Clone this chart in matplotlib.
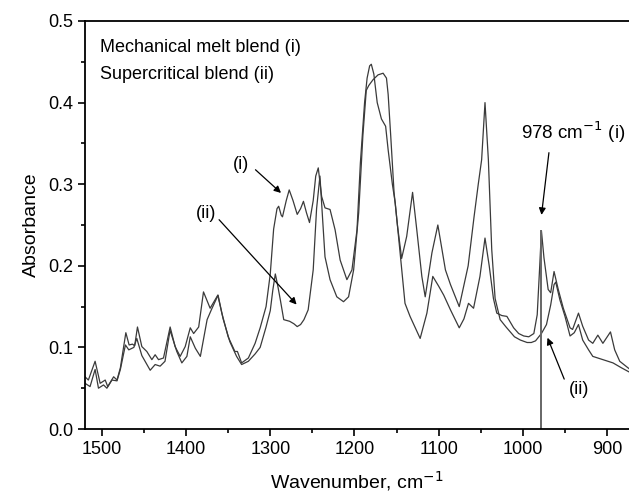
import matplotlib.pyplot as plt
from matplotlib.ticker import MultipleLocator, FormatStrFormatter

plt.rcParams['font.family'] = ['Liberation Sans', 'DejaVu Sans']

# Mechanical melt blend (i)
wn_i = [1520, 1516, 1508, 1502, 1496, 1493, 1486, 1482, 1478, 1471.5,
        1467.6, 1463.6, 1461, 1457.7, 1452.5, 1446.6, 1440.6, 1436.7, 1432.7, 1426.8,
        1418.9, 1413, 1407, 1401, 1395, 1391, 1385, 1379.3, 1371.4, 1362.3,
        1357.5, 1350, 1342, 1339, 1334, 1326, 1318, 1312, 1305, 1300,
        1296, 1292, 1290, 1287, 1285.5, 1281, 1277.5, 1273, 1268, 1264,
        1260.6, 1257, 1253.4, 1249, 1246, 1243, 1239, 1235, 1229, 1223,
        1217, 1209, 1203, 1197, 1193, 1188, 1185, 1182, 1180, 1177,
        1173, 1168, 1163, 1160, 1155, 1151.6, 1147.7, 1140, 1134, 1122,
        1114, 1107, 1100, 1094, 1086, 1075.6, 1070, 1064.6, 1058.6, 1051,
        1045, 1040, 1035, 1031, 1025, 1019, 1011, 1005, 999, 993,
        987, 983, 980, 978, 975, 970, 967, 963, 958, 952,
        944, 941, 934, 929, 922, 917, 911, 905, 896, 891,
        885, 874]
abs_i = [0.064, 0.060, 0.083, 0.056, 0.060, 0.052, 0.064, 0.060, 0.075, 0.118,
         0.103, 0.104, 0.102, 0.125, 0.101, 0.095, 0.085, 0.091, 0.085, 0.087,
         0.125, 0.101, 0.089, 0.101, 0.124, 0.117, 0.125, 0.168, 0.148, 0.164,
         0.142, 0.113, 0.095, 0.095, 0.081, 0.087, 0.105, 0.124, 0.150, 0.190,
         0.245, 0.270, 0.273, 0.262, 0.260, 0.280, 0.293, 0.280, 0.263, 0.270,
         0.279, 0.265, 0.253, 0.280, 0.310, 0.320, 0.285, 0.271, 0.269, 0.244,
         0.207, 0.183, 0.195, 0.244, 0.326, 0.400, 0.430, 0.445, 0.447, 0.435,
         0.400, 0.380, 0.371, 0.342, 0.300, 0.277, 0.236, 0.154, 0.138, 0.111,
         0.142, 0.187, 0.175, 0.164, 0.146, 0.124, 0.135, 0.154, 0.148, 0.187,
         0.234, 0.200, 0.160, 0.142, 0.139, 0.138, 0.124, 0.117, 0.114, 0.113,
         0.117, 0.140, 0.200, 0.243, 0.210, 0.171, 0.167, 0.193, 0.171, 0.148,
         0.124, 0.122, 0.142, 0.126, 0.109, 0.105, 0.115, 0.105, 0.119, 0.097,
         0.083, 0.074]

# Supercritical blend (ii)
wn_ii = [1520, 1514, 1508, 1504, 1498, 1494, 1488, 1482, 1478, 1472,
         1468, 1462, 1458.5, 1452.5, 1442.6, 1436.7, 1430.8, 1425, 1419, 1411,
         1405, 1399, 1395, 1389, 1383, 1375, 1370, 1362, 1356, 1348,
         1340, 1334, 1326, 1318, 1312, 1305, 1300, 1297, 1294, 1291,
         1288, 1284, 1277, 1272, 1268, 1264, 1260, 1255, 1249, 1245,
         1241, 1238, 1235, 1229, 1221, 1213, 1207, 1201, 1195, 1190,
         1186, 1183, 1178, 1172, 1166, 1162, 1160, 1157, 1153, 1149,
         1144, 1138, 1131, 1126, 1120, 1116, 1108, 1101, 1092, 1086,
         1075.6, 1065, 1058, 1053, 1049, 1045, 1041, 1037, 1033, 1027,
         1020, 1010, 1003, 995, 990, 985, 978, 972, 967, 963,
         961, 956, 950, 944, 939, 934, 929, 922, 917, 905,
         893, 883, 874]
abs_ii = [0.056, 0.052, 0.073, 0.050, 0.054, 0.050, 0.060, 0.059, 0.073, 0.103,
          0.097, 0.100, 0.111, 0.090, 0.072, 0.079, 0.077, 0.083, 0.121, 0.095,
          0.081, 0.089, 0.113, 0.099, 0.089, 0.134, 0.146, 0.164, 0.135, 0.107,
          0.089, 0.079, 0.083, 0.092, 0.100, 0.125, 0.145, 0.170, 0.190, 0.175,
          0.158, 0.134, 0.132, 0.129, 0.1255, 0.128, 0.134, 0.146, 0.195, 0.270,
          0.310, 0.260, 0.211, 0.183, 0.162, 0.156, 0.162, 0.195, 0.265, 0.360,
          0.415, 0.421, 0.428, 0.434, 0.436, 0.430, 0.410, 0.360, 0.290, 0.250,
          0.209, 0.236, 0.290, 0.244, 0.187, 0.162, 0.216, 0.250, 0.195, 0.177,
          0.150, 0.200, 0.260, 0.300, 0.330, 0.400, 0.330, 0.220, 0.160, 0.134,
          0.125, 0.113, 0.109, 0.106, 0.106, 0.108, 0.117, 0.128, 0.152, 0.177,
          0.180, 0.158, 0.138, 0.114, 0.118, 0.128, 0.109, 0.097, 0.089, 0.085,
          0.081, 0.075, 0.070]

marker_wn = 978
marker_abs = 0.243

fig = plt.figure(figsize=(6.29, 4.92), dpi=100)
ax = fig.add_axes([85 / 629, 63 / 492, 544 / 629, 408 / 492])

ax.plot(wn_i, abs_i, color='#3a3a3a', lw=0.9)
ax.plot(wn_ii, abs_ii, color='#3a3a3a', lw=0.9)
ax.plot([marker_wn, marker_wn], [0, marker_abs], color='#666666', lw=1.4)

ax.set_xlim(1520, 874)
ax.set_ylim(0, 0.5)
ax.xaxis.set_major_locator(MultipleLocator(100))
ax.xaxis.set_minor_locator(MultipleLocator(50))
ax.yaxis.set_major_locator(MultipleLocator(0.1))
ax.yaxis.set_minor_locator(MultipleLocator(0.05))
ax.yaxis.set_major_formatter(FormatStrFormatter('%.1f'))
ax.tick_params(which='major', direction='out', length=5, width=1.2, labelsize=13)
ax.tick_params(which='minor', direction='out', length=3, width=1.2)
ax.tick_params(top=False, right=False)
for s in ['left', 'bottom', 'top']:
    ax.spines[s].set_linewidth(1.3)
ax.spines['right'].set_visible(False)

ax.set_xlabel('Wavenumber, cm$^{-1}$', fontsize=14, labelpad=8)
ax.set_ylabel('Absorbance', fontsize=14, labelpad=6)

ax.text(1502, 0.467, 'Mechanical melt blend (i)', fontsize=13, va='center')
ax.text(1502, 0.434, 'Supercritical blend (ii)', fontsize=13, va='center')

arrow = dict(arrowstyle='-|>', color='black', lw=0.9, mutation_scale=10)
ax.text(1325, 0.324, '(i)', fontsize=13, ha='right', va='center')
ax.annotate('', xy=(1284.8, 0.287), xytext=(1320, 0.320), arrowprops=arrow)
ax.text(1364, 0.264, '(ii)', fontsize=13, ha='right', va='center')
ax.annotate('', xy=(1266.5, 0.150), xytext=(1363, 0.259), arrowprops=arrow)
ax.text(878, 0.364, '978 cm$^{-1}$ (i)', fontsize=13.5, ha='right', va='center')
ax.annotate('', xy=(978.3, 0.259), xytext=(968.7, 0.342), arrowprops=arrow)
ax.text(945, 0.048, '(ii)', fontsize=13, ha='left', va='center')
ax.annotate('', xy=(972, 0.115), xytext=(949.7, 0.058), arrowprops=arrow)

fig.savefig('out.png', dpi=100)
